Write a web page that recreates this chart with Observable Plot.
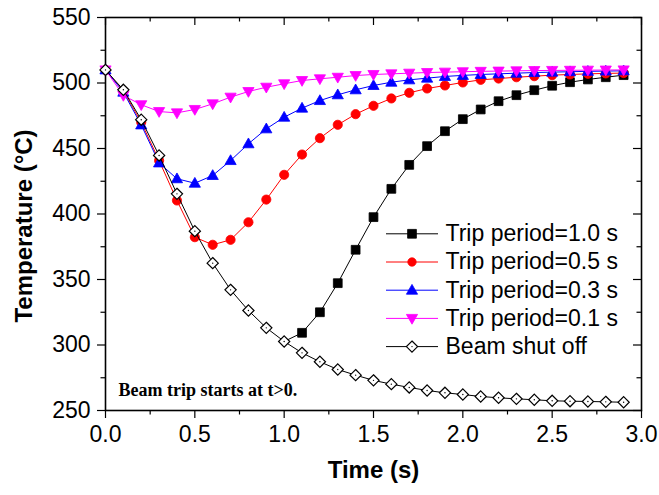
<!DOCTYPE html>
<html><head><meta charset="utf-8">
<script src="https://cdn.jsdelivr.net/npm/d3@7"></script>
<script src="https://cdn.jsdelivr.net/npm/@observablehq/plot@0.6"></script>
<style>body{margin:0;background:#fff}</style>
</head><body><div id="chart"></div>
<script>
const time = [0,0.1,0.2,0.3,0.4,0.5,0.6,0.7,0.8,0.9,1.0,1.1,1.2,1.3,1.4,1.5,1.6,1.7,1.8,1.9,2.0,2.1,2.2,2.3,2.4,2.5,2.6,2.7,2.8,2.9];
const beamOff = [510,494.8,472,444.7,415.4,386.9,362.5,342.1,326.3,313.1,302.7,294,287.2,281.3,277,273,270.1,267.6,265.3,263.5,262.2,260.7,259.7,258.9,258.2,257.4,257.1,256.9,256.6,256.3];
const trip10 = [510,494.8,472,444.7,415.4,386.9,362.5,342.1,326.3,313.1,302.7,309.3,325,347.2,372.7,397.6,419.2,437.5,451.8,463.2,472.4,479.8,486.1,490.7,494.5,497.9,500.6,502.7,504.4,506];
const trip05 = [510,494,470,440.8,410.3,382.3,376.5,380.3,393.7,411,429.9,445.4,457.9,468.1,476.2,482.6,488.2,492.5,495.8,498.1,500.4,502.4,503.4,504.4,505.2,506,506.5,507,507.3,507.6];
const trip03 = [510,493,468,439,426.9,423.5,429.4,440.8,453.6,465,473.9,480.8,486.6,491,494.8,498.1,500.6,502.4,503.7,505,505.8,506.5,507,507.5,508,508.3,508.6,508.9,509.1,509.3];
const trip01 = [510,490.5,483.4,478.2,477.2,479.8,484.1,489.2,493.5,496.8,499.4,501.9,503.2,504.4,505.7,506.5,507,507.5,508,508.3,508.6,508.9,509.1,509.3,509.5,509.6,509.7,509.8,509.9,510];
const legendLabels = ["Trip period=1.0 s","Trip period=0.5 s","Trip period=0.3 s","Trip period=0.1 s","Beam shut off"];
const seriesColors = ["#000000","#ff0000","#0000ff","#ff00ff","#000000"];
const xTicks = [0,0.5,1.0,1.5,2.0,2.5,3.0];
const xMinor = [0.25,0.75,1.25,1.75,2.25,2.75];
const yTicks = [250,300,350,400,450,500,550];
const yMinor = [275,325,375,425,475,525];
const note = "Beam trip starts at t>0.";

const font = '"Liberation Sans", Arial, sans-serif';
const rows = (vals) => time.map((t, i) => ({t, v: vals[i]}));

const symSquare = {draw(c){const s=4.4; c.moveTo(-s,-s); c.lineTo(s,-s); c.lineTo(s,s); c.lineTo(-s,s); c.closePath();}};
const symUp = {draw(c){c.moveTo(0,-5.8); c.lineTo(5.6,4); c.lineTo(-5.6,4); c.closePath();}};
const symDown = {draw(c){c.moveTo(0,5.8); c.lineTo(5.6,-4); c.lineTo(-5.6,-4); c.closePath();}};
const symDiamond = {draw(c){const h=5.6; c.moveTo(0,-h); c.lineTo(h,0); c.lineTo(0,h); c.lineTo(-h,0); c.closePath();}};
const symLine = {draw(c){c.moveTo(-26,0); c.lineTo(26,0);}};

const markerSpecs = [
  {symbol: symSquare, fill: seriesColors[0], stroke: seriesColors[0]},
  {symbol: "circle", r: 4.6, fill: seriesColors[1], stroke: seriesColors[1]},
  {symbol: symUp, fill: seriesColors[2], stroke: seriesColors[2]},
  {symbol: symDown, fill: seriesColors[3], stroke: seriesColors[3]},
  {symbol: symDiamond, fill: "white", stroke: seriesColors[4], strokeWidth: 1.2}
];

const series = [
  {data: rows(trip10).filter(d => d.t >= 1.0), dotsFilter: d => d.t > 1.0},
  {data: rows(trip05)},
  {data: rows(trip03)},
  {data: rows(trip01)},
  {data: rows(beamOff)}
];

const marks = [];
series.forEach((s, i) => {
  const spec = markerSpecs[i];
  marks.push(Plot.line(s.data, {x: "t", y: "v", stroke: seriesColors[i], strokeWidth: 1}));
  const dd = s.dotsFilter ? s.data.filter(s.dotsFilter) : s.data;
  marks.push(Plot.dot(dd, {x: "t", y: "v", symbol: spec.symbol, r: spec.r || 1, fill: spec.fill, stroke: spec.stroke, strokeWidth: spec.strokeWidth || 0.8}));
  if (i === 4) marks.push(Plot.dot(dd, {x: "t", y: "v", r: 0.7, fill: "black"}));
});

// legend
legendLabels.forEach((lab, i) => {
  const spec = markerSpecs[i];
  const dy = 216.3 + i * 28.2;
  marks.push(Plot.dot([lab], {frameAnchor: "top-left", dx: 306.5, dy, symbol: symLine, r: 1, fill: "none", stroke: seriesColors[i], strokeWidth: 1}));
  marks.push(Plot.dot([lab], {frameAnchor: "top-left", dx: 306.5, dy, symbol: spec.symbol, r: spec.r ? 4.2 : 1, fill: spec.fill, stroke: spec.stroke, strokeWidth: spec.strokeWidth || 0.8}));
  if (i === 4) marks.push(Plot.dot([lab], {frameAnchor: "top-left", dx: 306.5, dy, r: 0.7, fill: "black"}));
  marks.push(Plot.text([lab], {frameAnchor: "top-left", dx: 340, dy, text: d => d, textAnchor: "start", lineAnchor: "middle", fontSize: 23, fontFamily: font, fill: "black"}));
});

const chart = Plot.plot({
  width: 659,
  height: 495,
  marginLeft: 105,
  marginRight: 18,
  marginTop: 17,
  marginBottom: 85,
  style: {background: "white", fontFamily: font, color: "black", overflow: "visible"},
  x: {domain: [0, 3.0]},
  y: {domain: [250, 550]},
  marks: [
    Plot.axisX(xTicks, {tickSize: 8, tickPadding: 7, fontSize: 23, tickFormat: d3.format(".1f"), label: null, strokeWidth: 1.2}),
    Plot.axisX(xMinor, {tickSize: 4.5, tickFormat: () => "", label: null, strokeWidth: 1.2}),
    Plot.axisY(yTicks, {tickSize: 8, tickPadding: 7, fontSize: 23, tickFormat: d3.format("d"), label: null, strokeWidth: 1.2}),
    Plot.axisY(yMinor, {tickSize: 4.5, tickFormat: () => "", label: null, strokeWidth: 1.2}),
    Plot.tickX(xTicks, {x: d => d, insetBottom: 393 - 8, strokeWidth: 1.2}),
    Plot.tickX(xMinor, {x: d => d, insetBottom: 393 - 4.5, strokeWidth: 1.2}),
    Plot.tickY(yTicks, {y: d => d, insetLeft: 536 - 8, strokeWidth: 1.2}),
    Plot.tickY(yMinor, {y: d => d, insetLeft: 536 - 4.5, strokeWidth: 1.2}),
    Plot.frame({stroke: "black", strokeWidth: 1.6}),
    ...marks,
    Plot.text([note], {frameAnchor: "bottom-left", dx: 13, dy: -15, text: d => d, textAnchor: "start", lineAnchor: "bottom", fontSize: 18, fontWeight: "bold", fontFamily: '"Liberation Serif", "Times New Roman", serif', fill: "black"}),
    Plot.text(["Time (s)"], {frameAnchor: "bottom", dy: 60, text: d => d, textAnchor: "middle", lineAnchor: "middle", fontSize: 24, fontWeight: "bold", fontFamily: font, fill: "black"}),
    Plot.text(["Temperature (°C)"], {frameAnchor: "left", dx: -81, dy: 12, rotate: -90, text: d => d, textAnchor: "middle", lineAnchor: "middle", fontSize: 24, fontWeight: "bold", fontFamily: font, fill: "black"})
  ]
});
document.getElementById("chart").appendChild(chart);
</script>
</body></html>
